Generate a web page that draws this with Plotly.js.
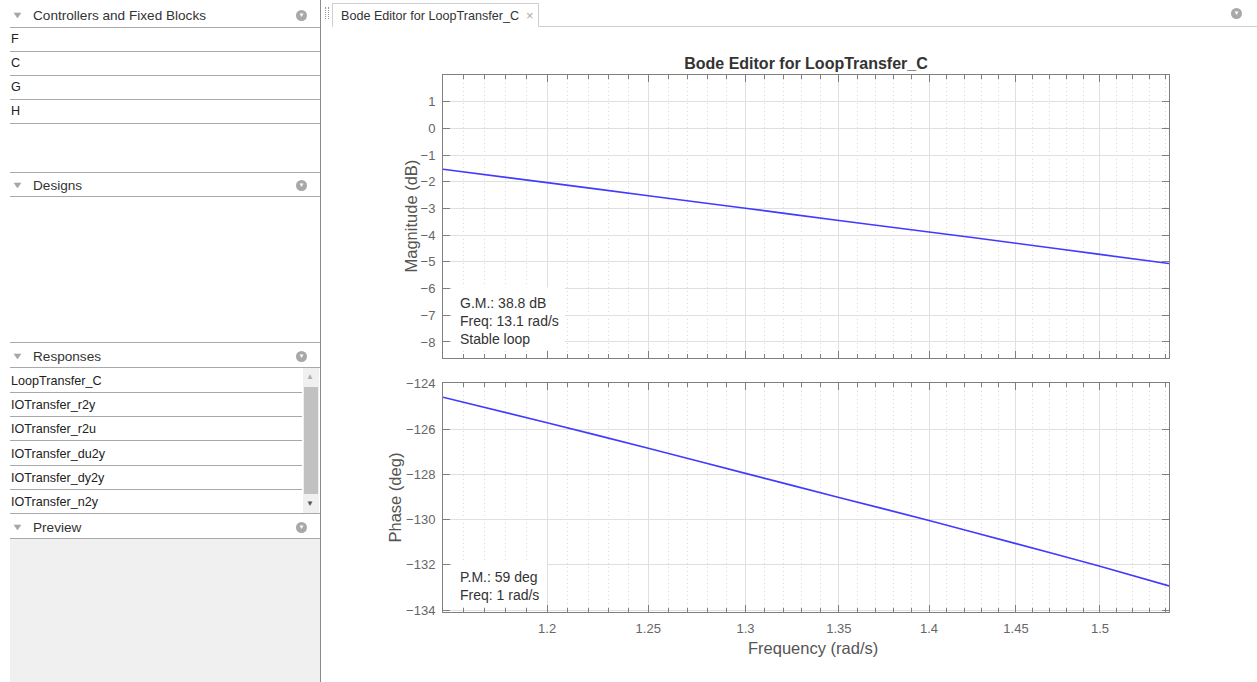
<!DOCTYPE html>
<html>
<head>
<meta charset="utf-8">
<script src="https://cdn.plot.ly/plotly-3.0.1.min.js"></script>
<style>
  html, body { margin:0; padding:0; background:#fff; width:1257px; height:682px; overflow:hidden;
    font-family:"Liberation Sans", Arial, sans-serif; }
  .abs { position:absolute; }
  .hline { position:absolute; height:1px; background:#a9a9a9; }
  .hdr { position:absolute; left:33px; font-size:13.6px; color:#333; line-height:16px; }
  .tri { position:absolute; left:11px; font-size:13px; color:#a6a6a6; line-height:13px; transform:scaleY(0.7); }
  .gear { position:absolute; left:296px; width:11px; height:11px; border-radius:50%; background:#a8a8a8;
    color:#fff; font-size:6px; line-height:11px; text-align:center; }
  .item { position:absolute; left:11px; font-size:12.6px; color:#222; line-height:15px; }
</style>
</head>
<body>
<div id="panel"></div>
<div id="plot" class="abs" style="left:322px; top:27px; width:935px; height:655px;"></div>
<script>
// ---- data ----
const chartTitle = "Bode Editor for LoopTransfer_C";
const freq = [1.1506, 1.2, 1.25, 1.3, 1.35, 1.4, 1.45, 1.5, 1.5424];           // rad/s
const magnitudeDb = [-1.53, -2.03, -2.52, -2.99, -3.45, -3.88, -4.30, -4.72, -5.06];
const phaseDeg = [-124.6, -125.72, -126.85, -127.96, -129.02, -130.04, -131.06, -132.06, -132.93];
const xTickVals = [1.2, 1.25, 1.3, 1.35, 1.4, 1.45, 1.5];
const xTickText = ["1.2", "1.25", "1.3", "1.35", "1.4", "1.45", "1.5"];
const xMinorVals = [1.16,1.17,1.18,1.19,1.21,1.22,1.23,1.24,1.26,1.27,1.28,1.29,1.31,1.32,1.33,1.34,
                    1.36,1.37,1.38,1.39,1.41,1.42,1.43,1.44,1.46,1.47,1.48,1.49,1.51,1.52,1.53,1.54];
const magTickVals = [-8,-7,-6,-5,-4,-3,-2,-1,0,1];
const phaseTickVals = [-134,-132,-130,-128,-126,-124];
const gmLines = ["G.M.: 38.8 dB", "Freq: 13.1 rad/s", "Stable loop"];
const pmLines = ["P.M.: 59 deg", "Freq: 1 rad/s"];
const controllerBlocks = ["F", "C", "G", "H"];
const responses = ["LoopTransfer_C", "IOTransfer_r2y", "IOTransfer_r2u", "IOTransfer_du2y", "IOTransfer_dy2y", "IOTransfer_n2y"];
const xTitle = "Frequency (rad/s)";
const magTitle = "Magnitude (dB)";
const phaseTitle = "Phase (deg)";

// ---- left panel (UI chrome) ----
const panel = document.getElementById('panel');
function add(html) { panel.insertAdjacentHTML('beforeend', html); }
function hline(y, x0, x1) { add(`<div class="hline" style="top:${y}px;left:${x0}px;width:${x1-x0}px"></div>`); }
function header(txt, yc) {
  add(`<div class="tri" style="top:${yc-7}px">&#9660;</div>`);
  add(`<div class="hdr" style="top:${yc-7}px">${txt}</div>`);
  add(`<div class="gear" style="top:${yc-5}px">&#9660;</div>`);
}
header("Controllers and Fixed Blocks", 15);
hline(27, 10, 320);
controllerBlocks.forEach((t, i) => {
  const yc = 38 + i*24;
  add(`<div class="item" style="top:${yc-6}px">${t}</div>`);
  hline(yc + 13, 10, 320);
});
hline(172, 10, 320);
header("Designs", 185);
hline(196, 10, 320);
hline(342, 10, 320);
header("Responses", 356);
hline(367, 10, 320);
responses.forEach((t, i) => {
  const yc = 380 + i*24.2;
  add(`<div class="item" style="top:${yc-6}px">${t}</div>`);
  if (i < responses.length-1) hline(Math.round(yc + 12), 10, 302);
});
// scrollbar
add(`<div class="abs" style="left:303px;top:368px;width:16px;height:145px;background:#f0f0f0"></div>`);
add(`<div class="abs" style="left:304px;top:387px;width:14px;height:107px;background:#c1c1c1"></div>`);
add(`<div class="abs" style="left:306px;top:373px;font-size:8px;color:#b0b0b0;line-height:8px">&#9650;</div>`);
add(`<div class="abs" style="left:306px;top:500px;font-size:8px;color:#555;line-height:8px">&#9660;</div>`);
hline(513, 10, 320);
header("Preview", 527);
hline(538, 10, 320);
add(`<div class="abs" style="left:10px;top:539px;width:310px;height:143px;background:#f0f0f0"></div>`);
// panel right border
add(`<div class="abs" style="left:320px;top:0px;width:1px;height:682px;background:#8a8a8a"></div>`);
// tab bar
add(`<div class="abs" style="left:325px;top:7px;height:12px;border-left:1px dotted #999;border-right:1px dotted #999;width:2px"></div>`);
add(`<div class="abs" style="left:538px;top:26px;width:719px;height:1px;background:#cfcfcf"></div>`);
add(`<div class="abs" style="left:332px;top:3px;width:205px;height:23px;border:1px solid #cfcfcf;border-bottom:none;background:#fff"></div>`);
add(`<div class="abs" style="left:341px;top:9px;font-size:12.6px;color:#333;line-height:15px">${chartTitle}</div>`);
add(`<div class="abs" style="left:526px;top:8px;font-size:13px;color:#aaa;line-height:15px">&#215;</div>`);
add(`<div class="abs" style="left:1231px;top:8px;width:11px;height:11px;border-radius:50%;background:#a8a8a8;color:#fff;font-size:6px;line-height:11px;text-align:center">&#9660;</div>`);

// ---- chart ----
const FONT = '"Liberation Sans", Arial, sans-serif';
const lineColor = 'rgb(66,58,255)';
const xRange = [Math.log10(freq[0]), Math.log10(freq[freq.length-1])];

const traces = [
  { x: freq, y: magnitudeDb, xaxis: 'x2', yaxis: 'y2', mode: 'lines', type: 'scatter',
    line: { color: lineColor, width: 1.6, shape: 'spline', smoothing: 0.6 }, hoverinfo: 'skip' },
  { x: freq, y: phaseDeg, xaxis: 'x', yaxis: 'y', mode: 'lines', type: 'scatter',
    line: { color: lineColor, width: 1.6, shape: 'spline', smoothing: 0.6 }, hoverinfo: 'skip' }
];

const axisCommon = {
  showline: true, linecolor: '#7f7f7f', linewidth: 1, mirror: 'ticks',
  ticks: 'inside', ticklen: 7, tickcolor: '#7f7f7f', tickwidth: 1,
  showgrid: true, gridcolor: '#e0e0e0', gridwidth: 1, zeroline: false,
  tickfont: { family: FONT, size: 13, color: '#666' }
};
const xCommon = Object.assign({}, axisCommon, {
  type: 'log', range: xRange, tickmode: 'array', tickvals: xTickVals, ticktext: xTickText,
  minor: { tickmode: 'array', tickvals: xMinorVals, ticks: 'inside', ticklen: 4, tickcolor: '#7f7f7f',
           showgrid: true, gridcolor: '#d9d9d9', griddash: '1px,3px', gridwidth: 1 }
});

const annotations = [];
const annFont = { family: FONT, size: 14, color: '#333' };
gmLines.forEach((t, i) => annotations.push({
  xref: 'x2 domain', yref: 'y2', x: 0.0205, y: [-6.55, -7.23, -7.90][i], xanchor: 'left', yanchor: 'middle',
  text: t, showarrow: false, font: annFont
}));
pmLines.forEach((t, i) => annotations.push({
  xref: 'x domain', yref: 'y', x: 0.0205, y: [-132.52, -133.32][i], xanchor: 'left', yanchor: 'middle',
  text: t, showarrow: false, font: annFont
}));
const titleFont = { family: FONT, size: 16.5, color: '#555' };
annotations.push({ xref: 'paper', yref: 'paper', x: 0.5, y: 0, xshift: 6.5, yshift: -36,
  xanchor: 'center', yanchor: 'middle', text: xTitle, showarrow: false, font: titleFont });
annotations.push({ xref: 'paper', yref: 'y2 domain', x: 0, y: 0.5, xshift: -32,
  xanchor: 'center', yanchor: 'middle', textangle: -90, text: magTitle, showarrow: false, font: titleFont });
annotations.push({ xref: 'paper', yref: 'y domain', x: 0, y: 0.5, xshift: -48,
  xanchor: 'center', yanchor: 'middle', textangle: -90, text: phaseTitle, showarrow: false, font: titleFont });

const layout = {
  width: 935, height: 655,
  margin: { l: 121, r: 88, t: 48, b: 70 },
  paper_bgcolor: 'rgba(0,0,0,0)', plot_bgcolor: '#fff',
  showlegend: false,
  title: { text: '<b>' + chartTitle + '</b>', xref: 'paper', x: 0.5, xanchor: 'center',
           yref: 'container', y: 1 - 36/655, yanchor: 'middle',
           font: { family: FONT, size: 16, color: '#333' } },
  xaxis: Object.assign({}, xCommon, { anchor: 'y', ticklabelstandoff: 4 }),
  xaxis2: Object.assign({}, xCommon, { anchor: 'y2', matches: 'x', showticklabels: false }),
  yaxis: Object.assign({}, axisCommon, { domain: [0, 0.4264], range: [-134.08, -123.97],
    tickmode: 'array', tickvals: phaseTickVals, anchor: 'x', ticklabelstandoff: 4 }),
  yaxis2: Object.assign({}, axisCommon, { domain: [0.473, 1], range: [-8.6, 2.0],
    tickmode: 'array', tickvals: magTickVals, anchor: 'x2', ticklabelstandoff: 4 }),
  shapes: [
    { type: 'rect', xref: 'x2 domain', yref: 'y2', x0: 0.012, x1: 0.168, y0: -8.3, y1: -5.95,
      fillcolor: '#fff', line: { width: 0 }, layer: 'above' },
    { type: 'rect', xref: 'x domain', yref: 'y', x0: 0.012, x1: 0.143, y0: -133.75, y1: -131.9,
      fillcolor: '#fff', line: { width: 0 }, layer: 'above' }
  ],
  annotations: annotations
};

Plotly.newPlot('plot', traces, layout, { staticPlot: true, displayModeBar: false });
</script>
</body>
</html>
